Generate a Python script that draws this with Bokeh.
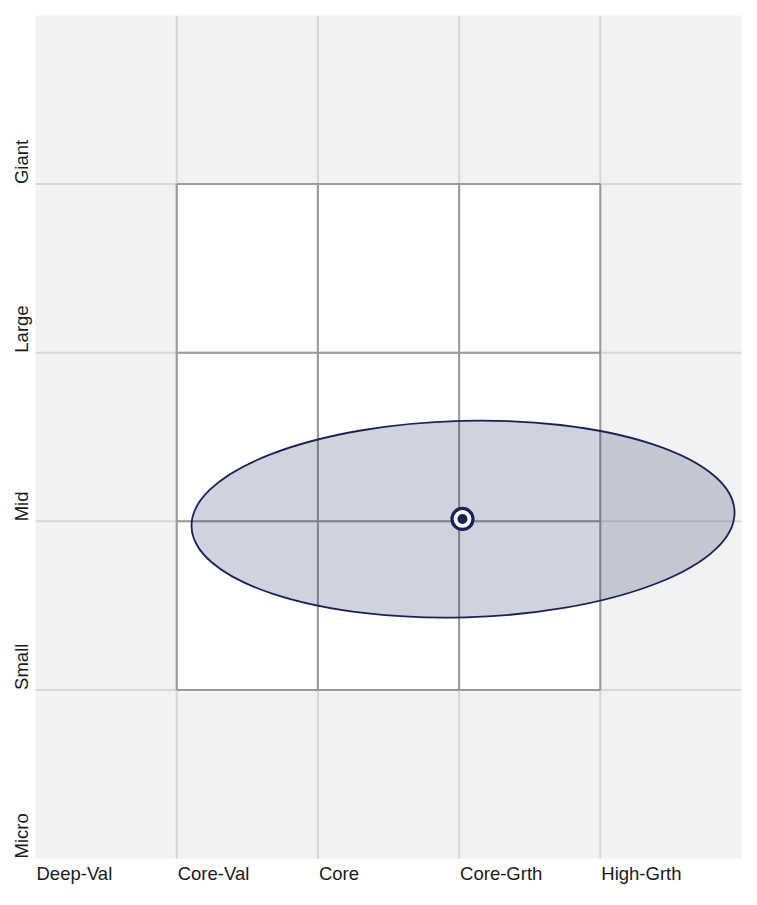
import numpy as np
from bokeh.plotting import figure
from bokeh.core.properties import value
from bokeh.embed import file_html
from bokeh.resources import INLINE

# Style box categories
styles = ["Deep-Val", "Core-Val", "Core", "Core-Grth", "High-Grth"]
sizes = ["Micro", "Small", "Mid", "Large", "Giant"]

# Central (core) 3x3 region indices
core_lo, core_hi = 1, 4

# Ownership zone (data units: style / size grid units)
zone_cx = [3.028]
zone_cy = [2.013]
zone_w = [3.847]
zone_h = [1.166]
zone_angle = [0.0276]  # radians

# Centroid
cent_x = [3.024]
cent_y = [2.014]

navy = "#16235a"
text_color = "#1a1a1a"
font = "Liberation Sans"

W, H = 749, 897
gx0, gx1 = 35, 741     # grid pixel extent (canvas)
gy0, gy1 = 15, 858
n, m = len(styles), len(sizes)
sx = (gx1 - gx0) / n
sy = (gy1 - gy0) / m
x_range = (-gx0 / sx, n + (W - gx1) / sx)
y_range = (-(H - gy1) / sy, m + gy0 / sy)

p = figure(width=W, height=H, x_range=x_range, y_range=y_range,
           x_axis_type=None, y_axis_type=None, toolbar_location=None,
           output_backend="svg", min_border=0)
p.outline_line_color = None
p.grid.visible = False
p.background_fill_color = "white"
p.border_fill_color = "white"

# Cells
left, right, bottom, top, colors = [], [], [], [], []
for i in range(n):
    for j in range(m):
        left.append(i); right.append(i + 1)
        bottom.append(j); top.append(j + 1)
        inner = core_lo <= i < core_hi and core_lo <= j < core_hi
        colors.append("white" if inner else "#f2f2f2")
p.quad(left=left, right=right, bottom=bottom, top=top, fill_color=colors, line_color=None)

# Light grid lines (full extent)
vx = list(range(1, n))
p.segment(x0=vx, y0=[0] * len(vx), x1=vx, y1=[m] * len(vx), line_color="#d6d6d6", line_width=2)
hy = list(range(1, m))
p.segment(x0=[0] * len(hy), y0=hy, x1=[n] * len(hy), y1=hy, line_color="#d6d6d6", line_width=2)

# Darker inner box lines
ivx = list(range(core_lo, core_hi + 1))
p.segment(x0=ivx, y0=[core_lo] * len(ivx), x1=ivx, y1=[core_hi] * len(ivx), line_color="#9a9a9a", line_width=2)
p.segment(x0=[core_lo] * len(ivx), y0=ivx, x1=[core_hi] * len(ivx), y1=ivx, line_color="#9a9a9a", line_width=2)

# Ownership zone ellipse
p.ellipse(x=zone_cx, y=zone_cy, width=zone_w, height=zone_h, angle=zone_angle,
          fill_color=navy, fill_alpha=0.2, line_color=navy, line_width=1.8)

# Centroid marker
p.scatter(x=cent_x, y=cent_y, size=21, marker="circle", fill_color="white", line_color=navy, line_width=3.2)
p.scatter(x=cent_x, y=cent_y, size=10, marker="circle", fill_color=navy, line_color=None)

# Style labels (bottom)
p.text(x=list(range(n)), y=[0] * n, text=styles, x_offset=1, y_offset=15,
       text_align="left", text_baseline="alphabetic", text_font=value(font),
       text_font_size="18.5px", text_color=text_color)

# Size labels (left, rotated)
p.text(x=[0] * m, y=list(range(m)), text=sizes, angle=np.pi / 2, x_offset=-14, y_offset=0,
       text_align="left", text_baseline="alphabetic", text_font=value(font),
       text_font_size="18.5px", text_color=text_color)

open("out.html", "w").write(file_html(p, INLINE))
